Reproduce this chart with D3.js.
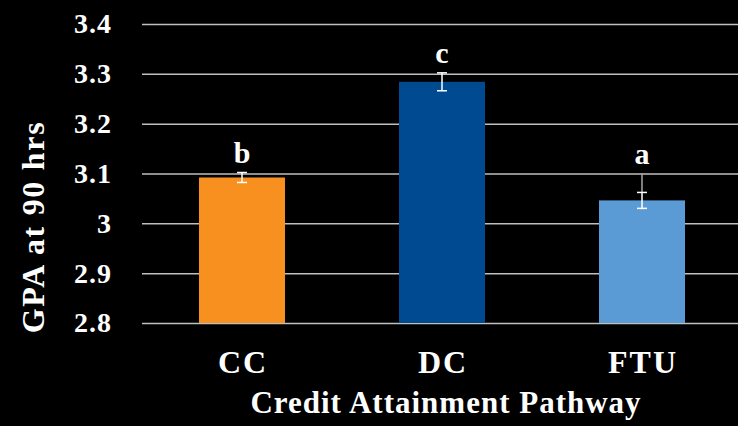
<!DOCTYPE html>
<html><head><meta charset="utf-8">
<script src="https://cdn.jsdelivr.net/npm/d3@7"></script>
<style>html,body{margin:0;padding:0;background:#000;}svg{display:block;}</style>
</head><body>
<svg id="c" width="738" height="426"></svg>
<script>
const categories = ["CC", "DC", "FTU"];
const values = [3.092, 3.284, 3.046];
const errors = [0.010, 0.018, 0.016];
const extraUpper = [null, null, 3.100];
const letters = ["b", "c", "a"];
const colors = ["#F7901E", "#004A91", "#5B9BD5"];
const yTicks = [2.8, 2.9, 3.0, 3.1, 3.2, 3.3, 3.4];
const yTickLabels = ["2.8", "2.9", "3", "3.1", "3.2", "3.3", "3.4"];

const svg = d3.select("#c");
const font = "'Liberation Serif', 'DejaVu Serif', serif";
const mLeft = 142, mRight = 742, mTop = 24, mBottom = 323;

const x = d3.scaleBand().domain(categories).range([mLeft, mRight]).paddingInner(0.57).paddingOuter(0.285);
const y = d3.scaleLinear().domain([2.8, 3.4]).range([mBottom, mTop]);

// gridlines
const yAxis = d3.axisLeft(y).tickValues(yTicks).tickSize(-(738 - mLeft)).tickFormat((d, i) => yTickLabels[i]).tickPadding(30);
const gy = svg.append("g").attr("transform", `translate(${mLeft},0)`).call(yAxis);
gy.select(".domain").remove();
gy.selectAll(".tick line").attr("stroke", "#BFBFBF").attr("stroke-width", 1.5);
gy.selectAll(".tick text").attr("fill", "#fff").attr("font-family", font).attr("font-size", 28)
  .attr("font-weight", "bold").attr("letter-spacing", 1);

// bars
svg.selectAll("rect.bar").data(categories).enter().append("rect")
  .attr("class", "bar")
  .attr("x", d => x(d))
  .attr("width", x.bandwidth())
  .attr("y", (d, i) => y(values[i]))
  .attr("height", (d, i) => y(2.8) - y(values[i]))
  .attr("fill", (d, i) => colors[i]);

// extra gray upper whiskers
categories.forEach((c, i) => {
  if (extraUpper[i] != null) {
    const cx = x(c) + x.bandwidth() / 2;
    svg.append("line").attr("x1", cx).attr("x2", cx)
      .attr("y1", y(extraUpper[i])).attr("y2", y(values[i] + errors[i]))
      .attr("stroke", "#A6A6A6").attr("stroke-width", 1.5);
  }
});

// error bars
categories.forEach((c, i) => {
  const cx = x(c) + x.bandwidth() / 2;
  const g = svg.append("g").attr("stroke", "#fff").attr("stroke-width", 1.5);
  g.append("line").attr("x1", cx).attr("x2", cx).attr("y1", y(values[i] + errors[i])).attr("y2", y(values[i] - errors[i]));
  g.append("line").attr("x1", cx - 5).attr("x2", cx + 5).attr("y1", y(values[i] + errors[i])).attr("y2", y(values[i] + errors[i]));
  g.append("line").attr("x1", cx - 5).attr("x2", cx + 5).attr("y1", y(values[i] - errors[i])).attr("y2", y(values[i] - errors[i]));
});

// letters
svg.selectAll("text.letter").data(categories).enter().append("text")
  .attr("class", "letter")
  .attr("x", d => x(d) + x.bandwidth() / 2)
  .attr("y", (d, i) => y(Math.max(values[i] + errors[i], extraUpper[i] || 0)) - 10)
  .attr("text-anchor", "middle")
  .attr("fill", "#fff").attr("font-family", font).attr("font-size", 30).attr("font-weight", "bold")
  .text((d, i) => letters[i]);

// x labels
const xAxis = d3.axisBottom(x).tickSize(0).tickPadding(0);
const gx = svg.append("g").attr("transform", `translate(0,${mBottom})`).call(xAxis);
gx.select(".domain").remove();
gx.selectAll(".tick text").attr("fill", "#fff").attr("font-family", font).attr("font-size", 32).attr("font-weight", "bold")
  .attr("letter-spacing", 2).attr("dx", 1).attr("dy", 0).attr("y", 50);

// axis titles
svg.append("text").attr("x", 446).attr("y", 413).attr("text-anchor", "middle")
  .attr("fill", "#fff").attr("font-family", font).attr("font-size", 31).attr("font-weight", "bold")
  .attr("letter-spacing", 1)
  .text("Credit Attainment Pathway");
svg.append("text").attr("transform", "translate(44,227) rotate(-90)").attr("text-anchor", "middle")
  .attr("fill", "#fff").attr("font-family", font).attr("font-size", 32).attr("font-weight", "bold")
  .attr("letter-spacing", 1.7)
  .text("GPA at 90 hrs");
</script>
</body></html>
